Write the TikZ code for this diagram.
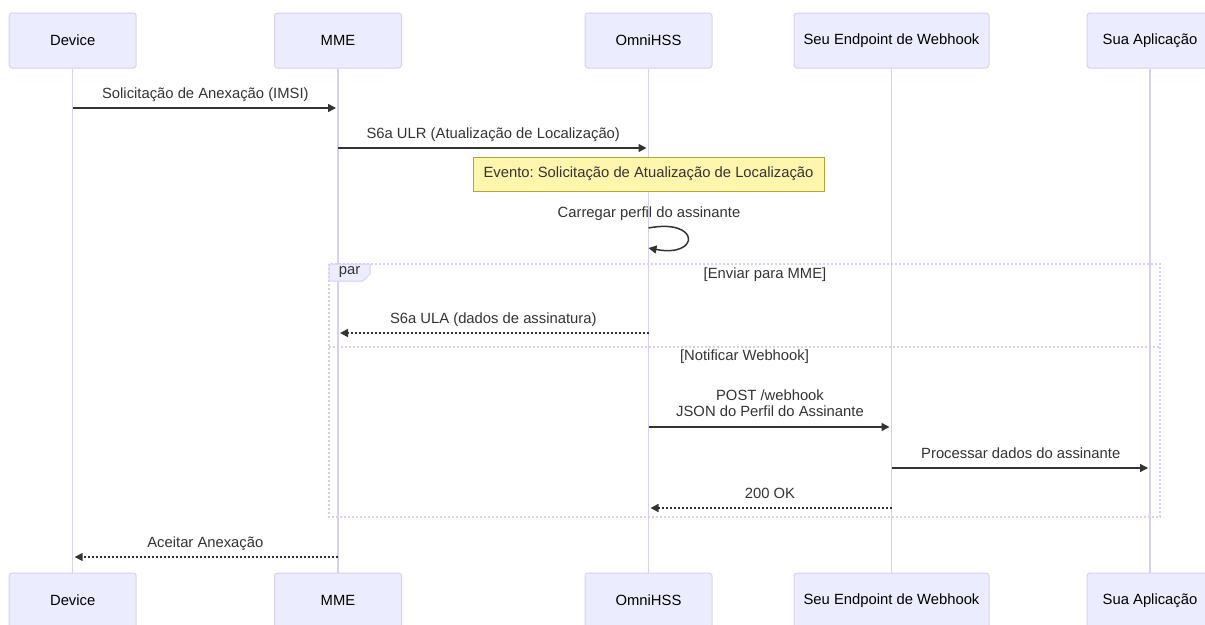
\documentclass[tikz,border=0pt]{standalone}
\usepackage{fontspec}
\setmainfont{Liberation Sans}
\frenchspacing
\usetikzlibrary{arrows.meta, positioning, calc}
\definecolor{actorfill}{HTML}{ECECFF}
\definecolor{actorline}{HTML}{DACEF3}
\definecolor{notefill}{HTML}{FFF5AD}
\definecolor{noteline}{HTML}{AAAA33}
\definecolor{msgcolor}{HTML}{333333}
\tikzset{
  seqfont/.style={font=\fontsize{14.8}{16}\selectfont},
  actorbox/.style={seqfont, draw=actorline, fill=actorfill, line width=1pt,
    rounded corners=3pt, minimum height=55pt, inner sep=0pt, text=black},
  lifeline/.style={draw=actorline, line width=1.2pt},
  msg/.style={draw=msgcolor, line width=1.5pt, shorten >=2pt,
    -{Triangle[length=8pt,width=8pt]}},
  reply/.style={msg, dash pattern=on 2pt off 2pt},
  msglabel/.style={seqfont, text=msgcolor, inner sep=0pt},
  notebox/.style={seqfont, draw=noteline, fill=notefill, line width=0.8pt,
    text=msgcolor, inner sep=0pt},
  parframe/.style={draw=actorline, line width=1.2pt, dash pattern=on 2pt off 2pt}
}
\begin{document}
\begin{tikzpicture}[x=1pt, y=-1pt]
  \useasboundingbox (0,0) rectangle (1205,624);
  \clip (0,0) rectangle (1205,624);
  % Participants and lifelines
  \foreach \nm/\x/\w/\lbl in {dev/72.7/127/Device, mme/338/127/MME,
      hss/648.5/127/OmniHSS, hook/891.5/195/Seu Endpoint de Webhook,
      app/1150/126/Sua Aplicação}{
    \node[actorbox, minimum width=\w pt] (\nm-top) at (\x,40.5) {\lbl};
    \node[actorbox, minimum width=\w pt] (\nm-bot) at (\x,600.5) {\lbl};
    \draw[lifeline] (\nm-top) -- (\nm-bot);
  }
  % par frame
  \coordinate (par-nw) at (329,264);
  \coordinate (par-se) at (1160,517);
  \draw[parframe] (par-nw) rectangle (par-se);
  \draw[parframe] (par-nw |- 0,347) -- (par-se |- 0,347);
  \filldraw[fill=actorfill, draw=actorline, line width=1pt]
    (par-nw) -- ++(41,0) -- ++(0,10) -- ++(-7,7) -- ++(-34,0) -- cycle;
  \node[msglabel] (par-lbl) at (349.5,272.5) {par};
  \node[msglabel] (sec-mme) at (765,275) {[Enviar para MME]};
  \node[msglabel] (sec-hook) at (744.5,357) {[Notificar Webhook]};
  % Attach request
  \draw[msg] (dev-top |- 0,108) -- (mme-top |- 0,108)
    node[msglabel, midway, anchor=base, yshift=10pt] (l-attach)
    {Solicitação de Anexação (IMSI)};
  \draw[msg] (mme-top |- 0,148) -- (hss-top |- 0,148)
    node[msglabel, midway, anchor=base, yshift=10pt] (l-ulr)
    {S6a ULR (Atualização de Localização)};
  % Event note
  \node[notebox, minimum width=351pt, minimum height=34pt] (evt)
    at (hss-top |- 0,174) {Evento: Solicitação de Atualização de Localização};
  % Self message
  \node[msglabel] (l-load) at (649,214) {Carregar perfil do assinante};
  \draw[msg, shorten >=0pt] (hss-top |- 0,228)
    .. controls +(52,-10) and +(52,10) .. (hss-top |- 0,248);
  % Branch 1
  \draw[reply] (hss-top |- 0,333) -- (mme-top |- 0,333)
    node[msglabel, midway, anchor=base, yshift=10pt] (l-ula)
    {S6a ULA (dados de assinatura)};
  % Branch 2
  \draw[msg] (hss-top |- 0,427) -- (hook-top |- 0,427)
    node[msglabel, midway, anchor=south, yshift=9.5pt, align=center] (l-post)
    {POST /webhook\\JSON do Perfil do Assinante};
  \draw[msg] (hook-top |- 0,468) -- (app-top |- 0,468)
    node[msglabel, midway, anchor=base, yshift=10pt] (l-proc)
    {Processar dados do assinante};
  \draw[reply] (hook-top |- 0,508) -- (hss-top |- 0,508)
    node[msglabel, midway, anchor=base, yshift=10pt] (l-ok) {200 OK};
  % Attach accept
  \draw[reply] (mme-top |- 0,557) -- (dev-top |- 0,557)
    node[msglabel, midway, anchor=base, yshift=10pt] (l-accept)
    {Aceitar Anexação};
\end{tikzpicture}
\end{document}
